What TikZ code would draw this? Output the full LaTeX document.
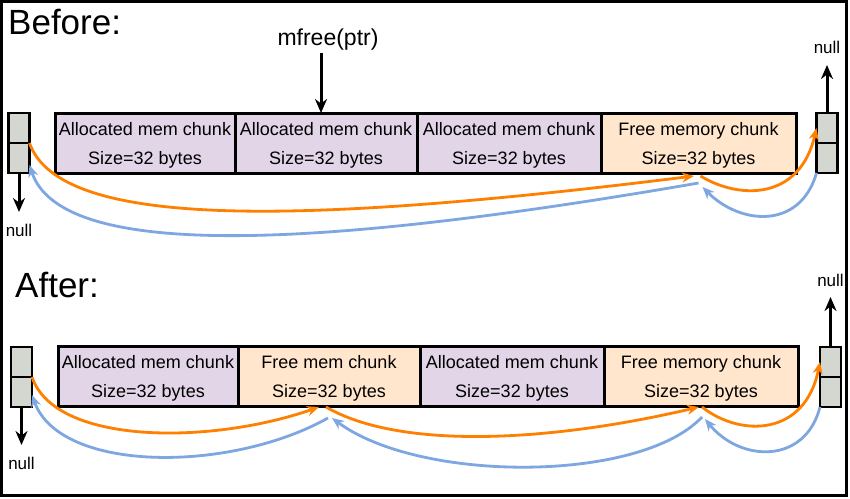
\documentclass[tikz,border=0pt]{standalone}
\usepackage{fontspec}
\setmainfont{Liberation Sans}
\usetikzlibrary{arrows.meta, positioning}
\definecolor{allocfill}{HTML}{E1D5E7}
\definecolor{freefill}{HTML}{FFE6CC}
\definecolor{cellfill}{HTML}{D4D7CF}
\definecolor{nextcol}{HTML}{FF8000}
\definecolor{prevcol}{HTML}{7EA6E0}

\begin{document}
\begin{tikzpicture}[x=1pt, y=-1pt,
  chunk/.style={draw, line width=3pt, outer sep=0pt, minimum height=60pt, inner sep=0pt, align=center, text depth=0pt, font=\fontsize{18}{29}\selectfont},
  alloc/.style={chunk, fill=allocfill},
  freec/.style={chunk, fill=freefill},
  cell/.style={draw, line width=2.5pt, fill=cellfill, outer sep=0pt, minimum width=21pt, minimum height=30pt, inner sep=0pt},
  nulltxt/.style={font=\fontsize{17}{19}\selectfont, inner sep=1pt},
  nullarrow/.style={-{Stealth[length=14pt,width=12pt]}, line width=3pt},
  nextptr/.style={-{Stealth[length=12pt,width=10pt]}, line width=2.8pt, nextcol},
  prevptr/.style={-{Stealth[length=12pt,width=10pt]}, line width=2.8pt, prevcol},
  heading/.style={font=\fontsize{35}{38}\selectfont, inner sep=0pt}]

\useasboundingbox (0,0) rectangle (850,498);
\draw[line width=3pt] (1.5,1.5) rectangle (846.5,495.5);

% before
\node[heading, anchor=west] (before) at (8,22.5) {Before:};
\node[alloc, minimum width=180pt, anchor=north west] (bc1) at (55,113) {Allocated mem chunk\\Size=32 bytes};
\node[alloc, minimum width=182pt, right=0pt of bc1] (bc2) {Allocated mem chunk\\Size=32 bytes};
\node[alloc, minimum width=184pt, right=0pt of bc2] (bc3) {Allocated mem chunk\\Size=32 bytes};
\node[freec, minimum width=195pt, right=0pt of bc3] (bc4) {Free memory chunk\\Size=32 bytes};

\node[cell, anchor=south] (bLa) at (19,143) {};
\node[cell, below=0pt of bLa] (bLb) {};
\node[cell, anchor=south] (bRa) at (827,143) {};
\node[cell, below=0pt of bRa] (bRb) {};

\node[nulltxt, below=50pt of bLb] (bLnull) {null};
\node[nulltxt, above=58pt of bRa] (bRnull) {null};
\draw[nullarrow, shorten >=11pt] (bLb) -- (bLnull);
\draw[nullarrow, shorten >=10pt] (bRa) -- (bRnull);

\node[font=\fontsize{23}{26}\selectfont, inner sep=2pt] (call) at (328,40) {mfree(ptr)};
\draw[nullarrow] ([xshift=-7pt]call.south) -- ([xshift=-5pt]bc2.north);

\draw[nextptr] (bLb.north east) .. controls (60,230) and (300,225) .. ([xshift=-4.5pt,yshift=-3pt]bc4.south);
\draw[prevptr] ([yshift=-10pt]bc4.south) .. controls (300,252) and (60,258) .. ([yshift=-7pt]bLb.east);
\draw[nextptr] ([xshift=2pt,yshift=-3pt]bc4.south) .. controls (740,200) and (800,200) .. (bRa.west);
\draw[prevptr] (bRb.south west) .. controls (800,230) and (740,225) .. ([xshift=4pt,yshift=-14pt]bc4.south);

% after
\node[heading, anchor=west] (after) at (15,285.5) {After:};
\node[alloc, minimum width=180pt, anchor=north west] (ac1) at (58,346) {Allocated mem chunk\\Size=32 bytes};
\node[freec, minimum width=182pt, right=0pt of ac1] (ac2) {Free mem chunk\\Size=32 bytes};
\node[alloc, minimum width=184pt, right=0pt of ac2] (ac3) {Allocated mem chunk\\Size=32 bytes};
\node[freec, minimum width=194pt, right=0pt of ac3] (ac4) {Free memory chunk\\Size=32 bytes};

\node[cell, anchor=south] (aLa) at (21.5,377) {};
\node[cell, below=0pt of aLa] (aLb) {};
\node[cell, anchor=south] (aRa) at (830.5,377) {};
\node[cell, below=0pt of aRa] (aRb) {};

\node[nulltxt, below=49pt of aLb] (aLnull) {null};
\node[nulltxt, above=59pt of aRa] (aRnull) {null};
\draw[nullarrow, shorten >=11pt] (aLb) -- (aLnull);
\draw[nullarrow, shorten >=9pt] (aRa) -- (aRnull);

\draw[nextptr] (aLb.north east) .. controls (55,445) and (210,445) .. ([xshift=-10pt,yshift=-1pt]ac2.south);
\draw[nextptr] ([xshift=-3pt,yshift=-1pt]ac2.south) .. controls (400,450) and (550,442) .. ([xshift=-2pt,yshift=-1pt]ac4.south);
\draw[nextptr] ([xshift=1pt,yshift=-1pt]ac4.south) .. controls (740,437) and (805,437) .. (aRa.west);
\draw[prevptr] (aRb.south west) .. controls (805,465) and (740,462) .. ([xshift=4pt,yshift=-13pt]ac4.south);
\draw[prevptr] ([xshift=1pt,yshift=-11pt]ac4.south) .. controls (640,483) and (420,483) .. ([xshift=3pt,yshift=-12pt]ac2.south);
\draw[prevptr] ([xshift=-1pt,yshift=-12pt]ac2.south) .. controls (230,473) and (60,473) .. ([yshift=-3pt]aLb.east);
\end{tikzpicture}
\end{document}
